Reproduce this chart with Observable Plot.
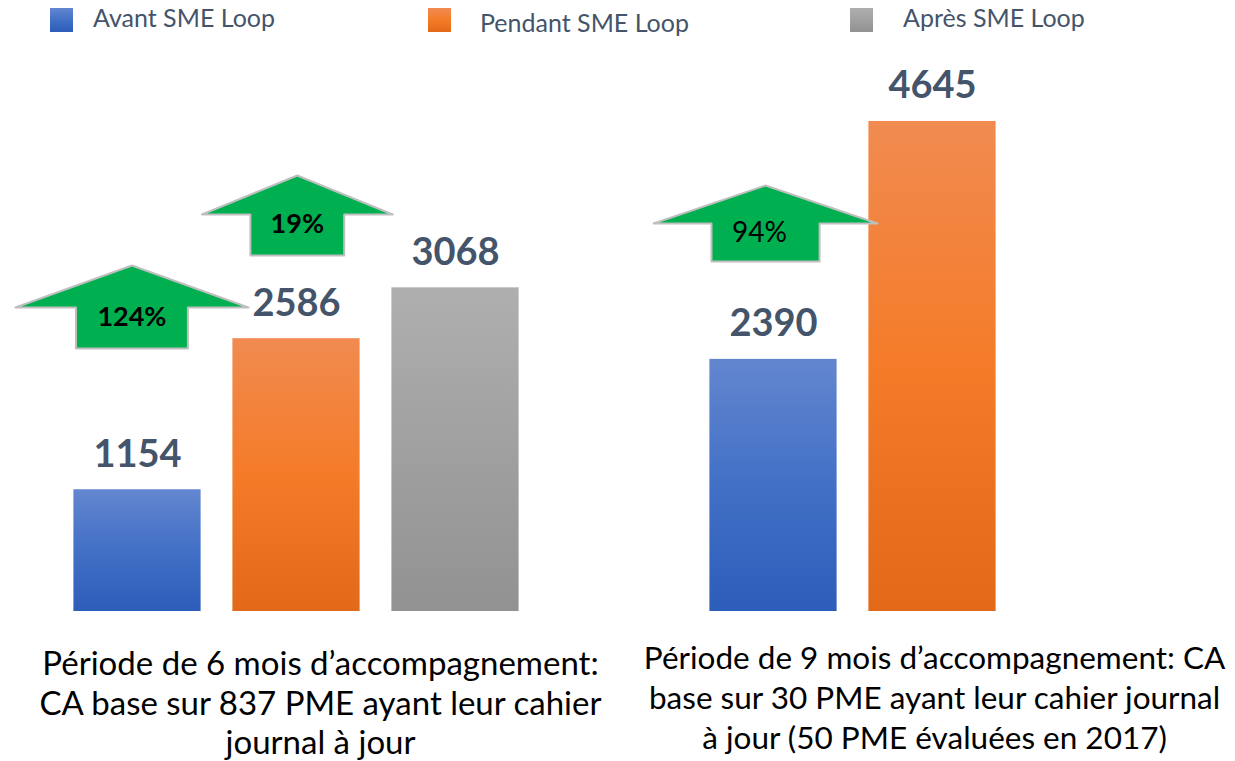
<!DOCTYPE html>
<html><head><meta charset="utf-8">
<script src="https://cdn.jsdelivr.net/npm/d3@7"></script>
<script src="https://cdn.jsdelivr.net/npm/@observablehq/plot@0.6"></script>
<style>
body{margin:0;background:#fff;width:1235px;height:761px;overflow:hidden;font-family:Lato,sans-serif;}
#legend{position:relative;height:45px;}
.sw{position:absolute;top:8px;width:23px;height:24px;}
.lt{position:absolute;font-size:25px;color:#44546A;line-height:1;white-space:nowrap;}
</style></head><body>
<div id="legend"></div>
<div id="chart"></div>
<script>
// ---- data ----
const seriesNames = ["Avant SME Loop", "Pendant SME Loop", "Après SME Loop"];
const groupCaptions = [
  "Période de 6 mois d’accompagnement:\nCA base sur 837 PME ayant leur cahier\njournal à jour",
  "Période de 9 mois d’accompagnement: CA\nbase sur 30 PME ayant leur cahier journal\nà jour (50 PME évaluées en 2017)"
];
const barGroup = [0, 0, 0, 1, 1];
const barSeries = [0, 1, 2, 0, 1];
const barValues = [1154, 2586, 3068, 2390, 4645];
const growthFrom = [0, 1, 3];
const growthLabels = ["124%", "19%", "94%"];

// ---- layout / style (not data) ----
const gradIds = ["gBlue", "gOrange", "gGrey"];
const gradStops = [
  [["0%", "#6386CF"], ["50%", "#4270C6"], ["100%", "#2D5DBA"]],
  [["0%", "#F18B50"], ["50%", "#F47B28"], ["100%", "#E26918"]],
  [["0%", "#AFAFAF"], ["50%", "#A0A0A0"], ["100%", "#929292"]]
];
const legendPos = [{sx: 50, tx: 93, ty: 5}, {sx: 428, tx: 480, ty: 10}, {sx: 850, tx: 903, ty: 5}];
// arrow geometry: offset from source bar slot (slot units), half widths (slot units), y levels (value units)
const arrowGeom = [
  {dx: -0.035, ht: 0.733, hs: 0.352, top: 3280, sh: 2882, bot: 2493, bold: true},
  {dx: 0.005, ht: 0.600, hs: 0.295, top: 4133, sh: 3763, bot: 3374, bold: true},
  {dx: -0.05, ht: 0.704, hs: 0.340, top: 4038, sh: 3678, bot: 3318, bold: false}
];
const captionSlot = [1.151, 5.013];

const bars = barValues.map((v, i) => ({
  value: v, series: barSeries[i], group: barGroup[i], slot: barGroup[i] * 4 + barSeries[i]
}));

const arrowPts = [];
const arrowLbls = [];
growthFrom.forEach((bi, k) => {
  const g = arrowGeom[k];
  const cx = bars[bi].slot + g.dx;
  const pts = [
    [cx - g.hs, g.bot], [cx - g.hs, g.sh], [cx - g.ht, g.sh], [cx, g.top],
    [cx + g.ht, g.sh], [cx + g.hs, g.sh], [cx + g.hs, g.bot], [cx - g.hs, g.bot]
  ];
  pts.forEach(([x, y]) => arrowPts.push({x, y, k}));
  arrowLbls.push({x: cx, y: g.sh, text: growthLabels[k], bold: g.bold});
});

// ---- legend ----
const legend = document.getElementById("legend");
seriesNames.forEach((name, i) => {
  const sw = document.createElement("div");
  sw.className = "sw";
  sw.style.left = legendPos[i].sx + "px";
  const st = gradStops[i];
  sw.style.background = `linear-gradient(to bottom, ${st.map(s => s[1] + " " + s[0]).join(",")})`;
  legend.appendChild(sw);
  const t = document.createElement("div");
  t.className = "lt";
  t.style.left = legendPos[i].tx + "px";
  t.style.top = legendPos[i].ty + "px";
  t.textContent = name;
  legend.appendChild(t);
});

// ---- chart ----
const marks = [];
seriesNames.forEach((name, s) => {
  marks.push(Plot.rectY(bars.filter(d => d.series === s), {
    x1: d => d.slot - 0.4, x2: d => d.slot + 0.4, y1: 0, y2: "value",
    fill: `url(#${gradIds[s]})`
  }));
});
marks.push(Plot.text(bars, {
  x: "slot", y: "value", text: d => String(d.value), lineAnchor: "bottom", dy: -23,
  fontSize: 38, fontWeight: "bold", fill: "#44546A", fontFamily: "Lato"
}));
marks.push(Plot.line(arrowPts, {
  x: "x", y: "y", z: "k", fill: "#00B050", stroke: "#BFBFBF", strokeWidth: 2, curve: "linear"
}));
marks.push(Plot.text(arrowLbls.filter(d => d.bold), {
  x: "x", y: "y", text: "text", lineAnchor: "middle", dy: 10,
  fontSize: 27, fontWeight: "bold", fill: "#000", fontFamily: "Lato"
}));
marks.push(Plot.text(arrowLbls.filter(d => !d.bold), {
  x: "x", y: "y", text: "text", lineAnchor: "middle", dy: 10, dx: -6,
  fontSize: 28, fill: "#000", fontFamily: "Lato"
}));
marks.push(Plot.text([{x: captionSlot[0], t: groupCaptions[0]}], {
  x: "x", y: () => 0, text: "t", lineAnchor: "top", dy: 36, lineHeight: 1.19,
  fontSize: 33, fill: "#000", fontFamily: "Lato"
}));
marks.push(Plot.text([{x: captionSlot[1], t: groupCaptions[1]}], {
  x: "x", y: () => 0, text: "t", lineAnchor: "top", dy: 29, lineHeight: 1.27,
  fontSize: 31.5, fill: "#000", fontFamily: "Lato"
}));

const chart = Plot.plot({
  width: 1235, height: 716,
  marginLeft: 57.5, marginRight: 223.5, marginTop: 0, marginBottom: 150,
  x: {type: "linear", domain: [-0.5, 5.5], axis: null},
  y: {domain: [0, 5365], axis: null},
  style: {background: "transparent", overflow: "visible"},
  marks
});
chart.style.overflow = "visible";
// gradients
const svg = d3.select(chart);
const defs = svg.insert("defs", ":first-child");
gradIds.forEach((id, i) => {
  const lg = defs.append("linearGradient").attr("id", id).attr("x1", 0).attr("y1", 0).attr("x2", 0).attr("y2", 1);
  gradStops[i].forEach(([o, c]) => lg.append("stop").attr("offset", o).attr("stop-color", c));
});
document.getElementById("chart").appendChild(chart);
</script>
</body></html>
